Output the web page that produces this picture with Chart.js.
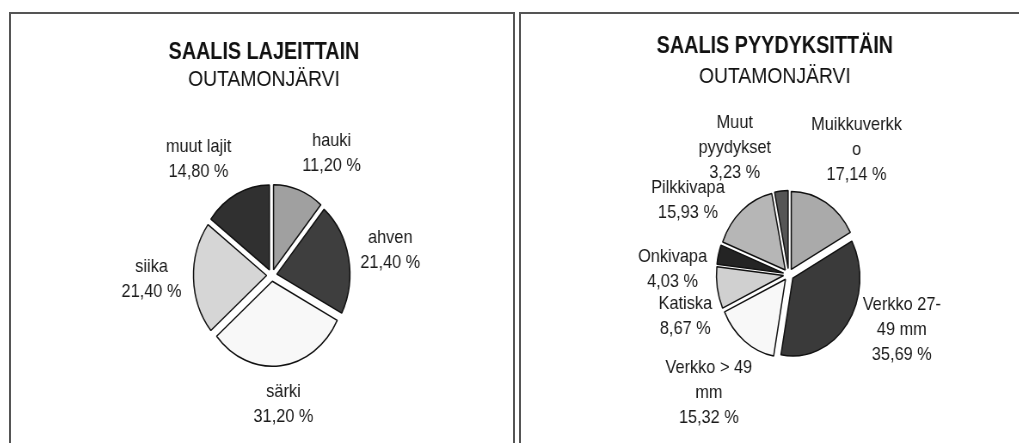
<!DOCTYPE html>
<html>
<head>
<meta charset="utf-8">
<script src="https://cdn.jsdelivr.net/npm/chart.js@4.4.0/dist/chart.umd.min.js"></script>
<style>
  html, body { margin: 0; padding: 0; background: #fff; overflow: hidden; }
  body { width: 1019px; height: 443px; position: relative; }
  .box { position: absolute; border: 2px solid #555; }
  #boxLeft { left: 9px; top: 12px; width: 502px; height: 470px; }
  #boxRight { left: 519px; top: 12px; width: 540px; height: 470px; }
  canvas { position: absolute; top: 0; transform-origin: 0 0; transform: scaleX(0.86); }
  #left { left: 9px; }
  #right { left: 519px; }
</style>
</head>
<body>
<div class="box" id="boxLeft"></div>
<div class="box" id="boxRight"></div>
<canvas id="left" width="593" height="443"></canvas>
<canvas id="right" width="595" height="443"></canvas>
<script>
// saalis lajeittain (%)
const speciesLabels = [['hauki'], ['ahven'], ['särki'], ['siika'], ['muut lajit']];
const speciesShares = [11.20, 21.40, 31.20, 21.40, 14.80];
const speciesColors = ['#a0a0a0', '#3e3e3e', '#f8f8f8', '#d6d6d6', '#303030'];

// saalis pyydyksittäin (%)
const gearLabels = [['Muikkuverkk', 'o'], ['Verkko 27-', '49 mm'], ['Verkko > 49', 'mm'],
    ['Katiska'], ['Onkivapa'], ['Pilkkivapa'], ['Muut', 'pyydykset']];
const gearShares = [17.14, 35.69, 15.32, 8.67, 4.03, 15.93, 3.23];
const gearColors = ['#aaaaaa', '#3a3a3a', '#f8f8f8', '#d0d0d0', '#242424', '#b6b6b6', '#555555'];

const FONT = '"Liberation Sans", Arial, sans-serif';

// move the pie sideways without moving the title
const shiftPie = {
    id: 'shiftPie',
    afterLayout(chart, args, opts) {
        chart.chartArea.left += opts.dx;
        chart.chartArea.right += opts.dx;
    }
};

// pull every slice out from the centre (like excel's exploded pie)
const explode = {
    id: 'explode',
    afterDatasetUpdate(chart, args, opts) {
        args.meta.data.forEach(arc => {
            const mid = (arc.startAngle + arc.endAngle) / 2;
            arc.x += Math.cos(mid) * opts.distance;
            arc.y += Math.sin(mid) * opts.distance;
        });
    }
};

// excel style labels outside the slices: name + share
const outsideLabels = {
    id: 'outsideLabels',
    afterDatasetsDraw(chart, args, opts) {
        const ctx = chart.ctx;
        const meta = chart.getDatasetMeta(0);
        const values = chart.data.datasets[0].data;
        ctx.save();
        ctx.font = opts.size + 'px ' + FONT;
        ctx.fillStyle = '#1a1a1a';
        ctx.textAlign = 'center';
        ctx.textBaseline = 'middle';
        meta.data.forEach((arc, i) => {
            const p = arc.getProps(['x', 'y', 'startAngle', 'endAngle', 'outerRadius'], true);
            const mid = (p.startAngle + p.endAngle) / 2 + opts.turn * Math.PI / 180;
            const ux = Math.cos(mid);
            const uy = Math.sin(mid);
            const lines = [].concat(chart.data.labels[i], values[i].toFixed(2).replace('.', ',') + ' %');
            const w = Math.max(...lines.map(l => ctx.measureText(l).width));
            const h = lines.length * opts.lineHeight;
            const r = p.outerRadius + opts.distance;
            const fx = Math.sign(ux) * Math.min(1, Math.max(0, (Math.abs(ux) - 0.1) * 4));
            const cx = p.x + r * ux + fx * w / 2;
            const cy = p.y + r * uy + uy * h / 2;
            lines.forEach((line, j) => {
                ctx.fillText(line, cx, cy - h / 2 + opts.lineHeight * (j + 0.5));
            });
        });
        ctx.restore();
    }
};

function makePie(id, title, labels, shares, colors, cfg) {
    return new Chart(document.getElementById(id), {
        type: 'pie',
        data: {
            labels: labels,
            datasets: [{
                data: shares,
                backgroundColor: colors,
                borderColor: '#111',
                borderWidth: 1.5
            }]
        },
        options: {
            responsive: false,
            animation: false,
            radius: cfg.radius,
            plugins: {
                legend: { display: false },
                tooltip: { enabled: false },
                title: {
                    display: true,
                    text: title,
                    color: '#111',
                    font: { family: FONT, size: 23, weight: 'bold' },
                    padding: { top: cfg.titleTop, bottom: cfg.titleGap }
                },
                subtitle: {
                    display: true,
                    text: 'OUTAMONJÄRVI',
                    color: '#111',
                    font: { family: FONT, size: 22.5 },
                    padding: { top: 0, bottom: cfg.subGap }
                },
                shiftPie: { dx: cfg.dx },
                explode: { distance: 6 },
                outsideLabels: { size: 19, lineHeight: 25, distance: cfg.labelGap, turn: cfg.turn }
            }
        },
        plugins: [shiftPie, explode, outsideLabels]
    });
}

makePie('left', 'SAALIS LAJEITTAIN', speciesLabels, speciesShares, speciesColors,
    { radius: 85, titleTop: 39, titleGap: 0, subGap: 14, dx: 9, turn: 0, labelGap: 14 });
makePie('right', 'SAALIS PYYDYKSITTÄIN', gearLabels, gearShares, gearColors,
    { radius: 78, titleTop: 33, titleGap: 3, subGap: 15.5, dx: 16, turn: -12, labelGap: 11 });
</script>
</body>
</html>
